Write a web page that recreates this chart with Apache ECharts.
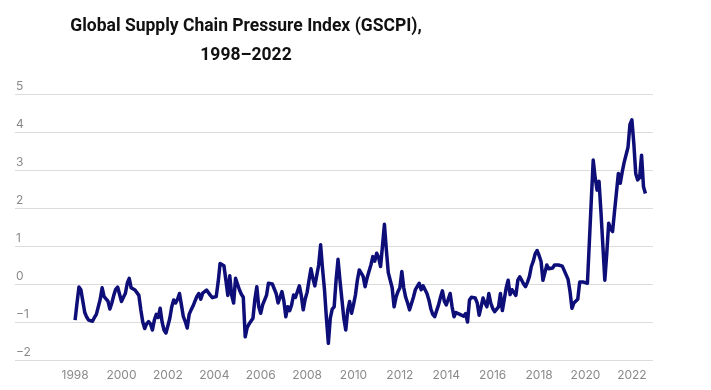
<!DOCTYPE html>
<html>
<head>
<meta charset="utf-8">
<script src="https://cdn.jsdelivr.net/npm/echarts@6/dist/echarts.min.js"></script>
<style>html,body{margin:0;padding:0;background:#fff;}#c{width:711px;height:390px;}</style>
</head>
<body>
<div id="c"></div>
<script>
// Monthly GSCPI values, January 1998 onward (one row per year)
const startYear = 1998;
const gscpi = [
  /*1998*/ -0.95, -0.5, -0.08, -0.15, -0.45, -0.75, -0.87, -0.95, -0.97, -0.98, -0.88, -0.8,
  /*1999*/ -0.84, -0.4, -0.1, -0.33, -0.38, -0.45, -0.66, -0.5, -0.3, -0.14, -0.08, -0.04,
  /*2000*/ -0.46, -0.35, -0.25, 0.02, 0.15, -0.1, -0.15, -0.16, -0.17, -0.3, -0.68, -1.0,
  /*2001*/ -1.17, -1.05, -0.99, -1.05, -1.21, -0.95, -0.8, -0.88, -0.64, -1.0, -1.21, -1.29,
  /*2002*/ -1.1, -0.9, -0.6, -0.42, -0.5, -0.4, -0.25, -0.55, -0.86, -0.99, -1.16, -0.8,
  /*2003*/ -0.68, -0.58, -0.45, -0.33, -0.25, -0.4, -0.24, -0.2, -0.16, -0.15, -0.3, -0.36,
  /*2004*/ -0.38, -0.33, 0.05, 0.54, 0.52, 0.48, 0.1, -0.3, 0.22, -0.3, -0.5, 0.15,
  /*2005*/ 0.1, -0.15, -0.27, -0.35, -1.39, -1.15, -1.05, -1.06, -0.9, -0.4, -0.07, -0.6,
  /*2006*/ -0.77, -0.55, -0.6, -0.3, 0.02, 0.05, 0.0, 0.03, -0.25, -0.5, -0.35, -0.2,
  /*2007*/ -0.45, -0.86, -0.6, -0.7, -0.55, -0.29, -0.35, -0.2, -0.05, -0.3, -0.68, -0.4,
  /*2008*/ -0.22, 0.1, 0.4, 0.15, -0.05, -0.1, 0.5, 1.03, 0.4, -0.15, -0.9, -1.56,
  /*2009*/ -0.9, -0.66, -0.6, 0.1, 0.65, 0.1, -0.4, -0.9, -1.21, -0.7, -0.46, -0.77,
  /*2010*/ -0.55, -0.29, 0.1, 0.37, 0.36, 0.2, -0.07, 0.15, 0.33, 0.5, 0.72, 0.6,
  /*2011*/ 0.81, 0.7, 0.46, 1.0, 1.57, 0.9, 0.3, 0.28, -0.1, -0.6, -0.35, -0.2,
  /*2012*/ -0.1, 0.33, -0.1, -0.35, -0.5, -0.68, -0.65, -0.35, -0.15, -0.1, 0.02, -0.15,
  /*2013*/ -0.05, -0.08, -0.25, -0.42, -0.65, -0.8, -0.86, -0.7, -0.55, -0.35, -0.18, -0.45,
  /*2014*/ -0.55, -0.4, -0.25, -0.6, -0.86, -0.75, -0.7, -0.8, -0.75, -0.85, -0.78, -1.0,
  /*2015*/ -0.42, -0.35, -0.33, -0.37, -0.5, -0.82, -0.6, -0.37, -0.5, -0.6, -0.25, -0.5,
  /*2016*/ -0.64, -0.73, -0.7, -0.6, -0.25, -0.7, -0.4, -0.1, 0.1, -0.28, -0.15, -0.1,
  /*2017*/ -0.3, 0.1, 0.19, 0.1, 0.0, -0.07, 0.05, 0.2, 0.46, 0.6, 0.8, 0.88,
  /*2018*/ 0.75, 0.6, 0.1, 0.3, 0.5, 0.4, 0.37, 0.42, 0.5, 0.45, 0.5, 0.45,
  /*2019*/ 0.47, 0.5, 0.24, 0.12, -0.2, -0.64, -0.5, -0.46, -0.4, 0.05, 0.1, 0.05,
  /*2020*/ 0.0, 0.02, 1.1, 2.2, 3.26, 2.8, 2.47, 2.7, 1.9, 1.0, 0.1, 0.8,
  /*2021*/ 1.6, 1.45, 1.38, 1.9, 2.4, 2.91, 2.65, 2.95, 3.2, 3.25, 3.6, 4.2,
  /*2022*/ 4.32, 3.7, 2.9, 2.74, 2.8, 3.39, 2.56, 2.38
];
const yearLabels = [1998, 2000, 2002, 2004, 2006, 2008, 2010, 2012, 2014, 2016, 2018, 2020, 2022];
const yTicks = [-2, -1, 0, 1, 2, 3, 4, 5];
const titleText = 'Global Supply Chain Pressure Index (GSCPI),\n1998\u20132022';

const points = gscpi.map((v, i) => [startYear + i / 12, v]);

const chart = echarts.init(document.getElementById('c'));
chart.setOption({
  animation: false,
  backgroundColor: '#fff',
  title: {
    text: titleText,
    left: 246,
    top: 12,
    padding: 0,
    textAlign: 'center',
    textStyle: {
      fontFamily: 'Roboto',
      fontWeight: 'bold',
      fontSize: 17.5,
      lineHeight: 29,
      color: '#111',
      align: 'center'
    }
  },
  grid: { left: 15, right: 58, top: 94, bottom: 30, containLabel: false },
  xAxis: {
    type: 'value',
    min: 1995.41,
    max: 2022.91,
    axisLine: { show: false },
    axisTick: { show: false },
    splitLine: { show: false },
    axisLabel: {
      customValues: yearLabels,
      formatter: v => String(Math.round(v)),
      color: '#8a8a8a',
      fontFamily: 'Inter',
      fontSize: 12,
      margin: 9
    }
  },
  yAxis: {
    type: 'value',
    min: yTicks[0],
    max: yTicks[yTicks.length - 1],
    interval: 1,
    axisLine: { show: false },
    axisTick: { show: false },
    splitLine: { lineStyle: { color: '#dcdcdc', width: 1 } },
    axisLabel: {
      inside: true,
      margin: 1,
      align: 'left',
      verticalAlign: 'bottom',
      padding: [0, 0, 2, 0],
      color: '#8a8a8a',
      fontFamily: 'Inter',
      fontSize: 12,
      formatter: v => (v < 0 ? '\u2212' + Math.abs(v) : String(v))
    }
  },
  series: [{
    type: 'line',
    data: points,
    showSymbol: false,
    lineStyle: { color: '#0e0e78', width: 3.5, join: 'round' },
    itemStyle: { color: '#0e0e78' }
  }]
});
</script>
</body>
</html>
